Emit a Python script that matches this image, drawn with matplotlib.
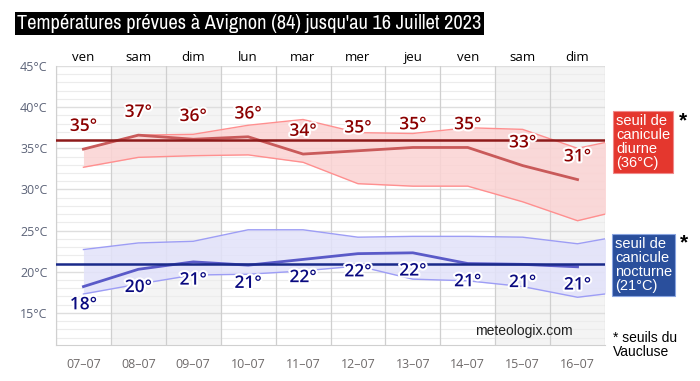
#!/usr/bin/env python3
"""Températures prévues à Avignon - meteologix style chart."""
import matplotlib
matplotlib.use('Agg')
import matplotlib.pyplot as plt
import matplotlib.patheffects as pe
from matplotlib.transforms import blended_transform_factory

days = ['ven', 'sam', 'dim', 'lun', 'mar', 'mer', 'jeu', 'ven', 'sam', 'dim']
dates = ['07-07', '08-07', '09-07', '10-07', '11-07', '12-07', '13-07', '14-07', '15-07', '16-07']

tmax = [34.9, 36.6, 36.1, 36.4, 34.3, 34.7, 35.1, 35.1, 32.9, 31.2]
tmax_labels = [35, 37, 36, 36, 34, 35, 35, 35, 33, 31]
# spread of the ensemble (one extra day, cut at the plot edge)
tmax_hi = [34.9, 36.6, 36.7, 37.8, 38.5, 36.9, 36.8, 37.5, 37.3, 35.0, 36.4]
tmax_lo = [32.7, 33.9, 34.1, 34.2, 33.3, 30.7, 30.4, 30.4, 28.5, 26.2, 27.8]

tmin = [18.2, 20.3, 21.2, 20.8, 21.5, 22.2, 22.3, 21.0, 20.9, 20.6]
tmin_labels = [18, 20, 21, 21, 22, 22, 22, 21, 21, 21]
tmin_hi = [22.7, 23.5, 23.7, 25.1, 25.1, 24.2, 24.3, 24.3, 24.2, 23.4, 24.6]
tmin_lo = [17.3, 18.5, 19.6, 19.7, 20.1, 20.7, 19.1, 18.9, 18.2, 16.9, 17.7]

seuil_jour = 36
seuil_nuit = 21

COL = {'red_line': '#c95a5a', 'red_edge': '#ff8f8f', 'red_fill': '#fbd3d3',
       'red_thr': '#8e1a1a', 'red_lab': '#8b0000', 'red_box': '#e4372e',
       'blue_line': '#5a5ac8', 'blue_edge': '#9d9df5', 'blue_fill': '#e2e2fa',
       'blue_thr': '#1a2a8a', 'blue_lab': '#0a0a80', 'blue_box': '#2a4f9c',
       'grid': '#ececec', 'grid5': '#dedede', 'vgrid': '#cfcfcf', 'weekend': '#f4f4f4'}
ARIAL = ['Liberation Sans', 'DejaVu Sans']


def main():
    plt.rcParams['font.family'] = ['Open Sans', 'DejaVu Sans']
    fig = plt.figure(figsize=(7.0, 3.81), dpi=100, facecolor='white')
    ax = fig.add_axes([56 / 700, 36 / 381, 549 / 700, 279 / 381])

    n = len(days)
    x = list(range(n))
    xb = list(range(len(tmax_hi)))
    ax.set_xlim(-0.5, n - 0.5)
    ax.set_ylim(11.1, 45)

    # weekends + grid
    for i, d in enumerate(days):
        if d in ('sam', 'dim'):
            ax.axvspan(i - 0.5, i + 0.5, color=COL['weekend'], lw=0, zorder=0)
    for v in range(12, 46):
        ax.axhline(v, color=COL['grid5'] if v % 5 == 0 else COL['grid'],
                   lw=1.0 if v % 5 == 0 else 0.8, zorder=0.5)
    for i in range(n + 1):
        ax.axvline(i - 0.5, color=COL['vgrid'], lw=0.9, zorder=0.6)

    # bands
    ax.fill_between(xb, tmax_lo, tmax_hi, color=COL['red_fill'], alpha=0.85, lw=0, zorder=1)
    ax.plot(xb, tmax_hi, color=COL['red_edge'], lw=1, zorder=1.5)
    ax.plot(xb, tmax_lo, color=COL['red_edge'], lw=1, zorder=1.5)
    ax.fill_between(xb, tmin_lo, tmin_hi, color=COL['blue_fill'], alpha=0.85, lw=0, zorder=1)
    ax.plot(xb, tmin_hi, color=COL['blue_edge'], lw=1, zorder=1.5)
    ax.plot(xb, tmin_lo, color=COL['blue_edge'], lw=1, zorder=1.5)

    ax.plot(x, tmax, color=COL['red_line'], lw=2.0, zorder=2)
    ax.plot(x, tmin, color=COL['blue_line'], lw=2.0, zorder=2)
    ax.axhline(seuil_jour, color=COL['red_thr'], lw=1.8, zorder=3)
    ax.axhline(seuil_nuit, color=COL['blue_thr'], lw=1.8, zorder=3)

    halo = [pe.withStroke(linewidth=3, foreground='white')]
    for i in x:
        ax.annotate(f'{tmax_labels[i]}°', (i, tmax[i]), xytext=(0, 16), textcoords='offset points',
                    ha='center', va='center', fontsize=12.5, fontweight='semibold',
                    color=COL['red_lab'], path_effects=halo, zorder=5)
        ax.annotate(f'{tmin_labels[i]}°', (i, tmin[i]), xytext=(0, -13.5), textcoords='offset points',
                    ha='center', va='center', fontsize=12.5, fontweight='semibold',
                    color=COL['blue_lab'], path_effects=halo, zorder=5)

    # axes styling
    for s in ['top', 'right']:
        ax.spines[s].set_visible(False)
    for s in ['left', 'bottom']:
        ax.spines[s].set_color('#d0d0d0')
    ax.set_yticks(range(15, 46, 5), [f'{v}°C' for v in range(15, 46, 5)])
    ax.set_xticks(x, [d.replace('-', '\u2013') for d in dates])
    ax.tick_params(axis='y', length=0, pad=6, labelsize=9, labelcolor='#5c6378')
    ax.tick_params(axis='x', length=0, pad=9, labelsize=9, labelcolor='#6e6a6a')
    tr = blended_transform_factory(ax.transData, ax.transAxes)
    for i, d in enumerate(days):
        ax.text(i, 1.03, d, transform=tr, ha='center', va='center', fontsize=9.5, color='black')

    ax.text(0.852, 0.025, 'meteologix.com', transform=ax.transAxes, ha='center', va='bottom',
            fontsize=10, color='#222222', family=ARIAL)

    # title
    fig.text(17 / 700, 1 - 23.5 / 381, "Températures prévues à Avignon (84) jusqu'au 16 Juillet 2023",
             ha='left', va='center', color='white', fontsize=14.7,
             family=['Archivo Narrow', 'PT Sans Narrow', 'DejaVu Sans'],
             bbox=dict(boxstyle='square,pad=0.12', fc='black', ec='none'))

    # threshold legends
    fig.text(616 / 700, 1 - 142 / 381, 'seuil de\ncanicule\ndiurne\n(36°C)', ha='left', va='center',
             fontsize=10.5, color='white', linespacing=0.98, family=ARIAL,
             bbox=dict(boxstyle='square,pad=0.2', fc=COL['red_box'], ec='#f08a8a', lw=0.8))
    fig.text(683 / 700, 1 - 121 / 381, '*', ha='center', va='center', fontsize=15,
             color='black', fontweight='bold', family=ARIAL)
    fig.text(615 / 700, 1 - 265 / 381, 'seuil de\ncanicule\nnocturne\n(21°C)', ha='left', va='center',
             fontsize=10.5, color='white', linespacing=0.98, family=ARIAL,
             bbox=dict(boxstyle='square,pad=0.2', fc=COL['blue_box'], ec='#8aa5e0', lw=0.8))
    fig.text(684 / 700, 1 - 243 / 381, '*', ha='center', va='center', fontsize=15,
             color='black', fontweight='bold', family=ARIAL)
    fig.text(613 / 700, 1 - 345 / 381, '* seuils du\nVaucluse', ha='left', va='center',
             fontsize=10, color='black', linespacing=1.0, family=ARIAL)

    fig.savefig('out.png', dpi=100, facecolor='white')
    plt.close(fig)


if __name__ == '__main__':
    main()
